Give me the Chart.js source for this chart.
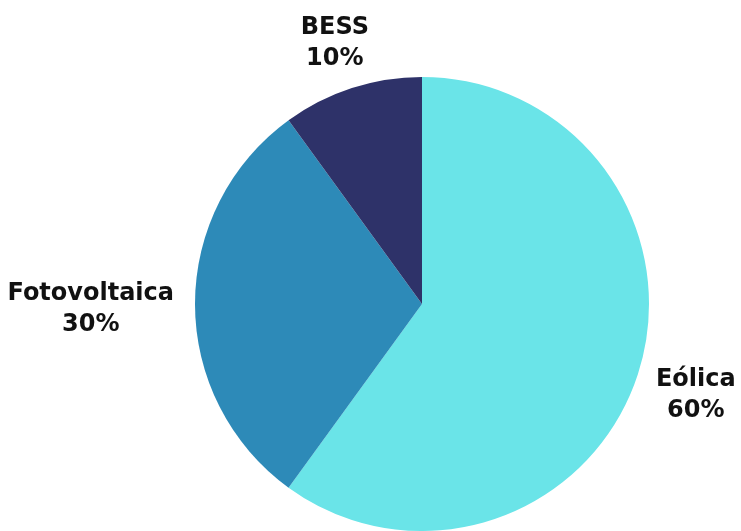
<!DOCTYPE html>
<html>
<head>
<meta charset="utf-8">
<script src="https://cdn.jsdelivr.net/npm/chart.js@4/dist/chart.umd.min.js"></script>
<style>
  html, body { margin: 0; padding: 0; background: #fff; }
  #wrap { width: 741px; height: 531px; }
</style>
</head>
<body>
<div id="wrap"><canvas id="chart"></canvas></div>
<script>
const categories = ['Eólica', 'Fotovoltaica', 'BESS'];
const shares = [60, 30, 10];
const sliceColors = ['#6ae4e8', '#2d8ab8', '#2e3269'];

// labels drawn outside each slice, pushed outward by their own size
const outsideLabels = {
  id: 'outsideLabels',
  afterDatasetsDraw(chart) {
    const ctx = chart.ctx;
    const meta = chart.getDatasetMeta(0);
    const gap = 21;
    const lineH = 31;
    const nudgeY = 5;
    ctx.save();
    ctx.font = 'bold 24px "DejaVu Sans"';
    ctx.fillStyle = '#111111';
    ctx.textAlign = 'center';
    ctx.textBaseline = 'middle';
    meta.data.forEach((arc, i) => {
      const p = arc.getProps(['x', 'y', 'startAngle', 'endAngle', 'outerRadius'], true);
      const mid = (p.startAngle + p.endAngle) / 2;
      const dx = Math.cos(mid), dy = Math.sin(mid);
      const lines = [categories[i], shares[i] + '%'];
      const w = Math.max(...lines.map(t => ctx.measureText(t).width));
      const h = lineH * lines.length;
      const cx = p.x + dx * (p.outerRadius + gap) + dx * w / 2;
      const cy = p.y + dy * (p.outerRadius + gap) + dy * h / 2 + nudgeY;
      lines.forEach((t, k) => {
        ctx.fillText(t, cx, cy - h / 2 + lineH * (k + 0.5));
      });
    });
    ctx.restore();
  }
};

new Chart(document.getElementById('chart'), {
  type: 'pie',
  data: {
    labels: categories,
    datasets: [{
      data: shares,
      backgroundColor: sliceColors,
      borderWidth: 0
    }]
  },
  options: {
    responsive: true,
    maintainAspectRatio: false,
    animation: false,
    layout: { padding: { left: 195, right: 92, top: 77, bottom: 0 } },
    plugins: {
      legend: { display: false },
      tooltip: { enabled: false }
    }
  },
  plugins: [outsideLabels]
});
</script>
</body>
</html>
